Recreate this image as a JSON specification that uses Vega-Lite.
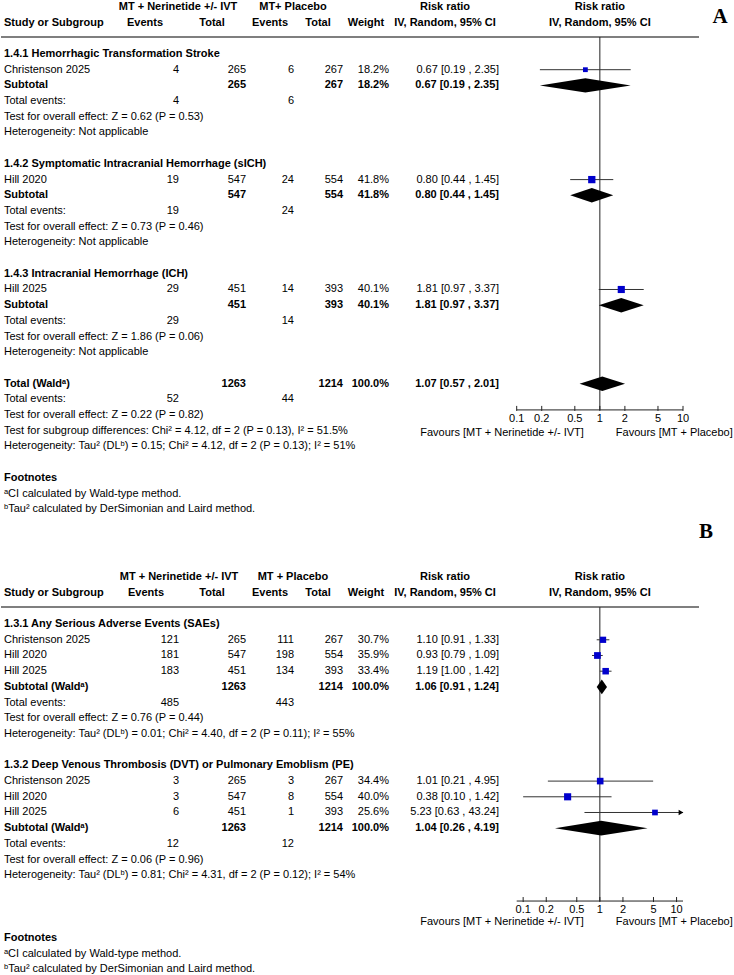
{
  "$schema": "https://vega.github.io/schema/vega-lite/v6.json",
  "padding": 0,
  "spacing": 0,
  "bounds": "flush",
  "background": "white",
  "config": {
    "view": {"stroke": null},
    "font": "Liberation Sans",
    "text": {"font": "Liberation Sans", "fontSize": 11, "color": "#000", "baseline": "middle"}
  },
  "datasets": {
    "ticks": [{"v": 0.1}, {"v": 0.2}, {"v": 0.5}, {"v": 1}, {"v": 2}, {"v": 5}, {"v": 10}],
    "A": [
      {"row": 0, "kind": "head", "key": "g1", "label": "MT + Nerinetide +/- IVT"},
      {"row": 0, "kind": "head", "key": "g2", "label": "MT+ Placebo"},
      {"row": 0, "kind": "head", "key": "rr", "label": "Risk ratio"},
      {"row": 0, "kind": "head", "key": "plot", "label": "Risk ratio"},
      {"row": 1, "kind": "head", "key": "study", "label": "Study or Subgroup"},
      {"row": 1, "kind": "head", "key": "e1", "label": "Events"},
      {"row": 1, "kind": "head", "key": "n1", "label": "Total"},
      {"row": 1, "kind": "head", "key": "e2", "label": "Events"},
      {"row": 1, "kind": "head", "key": "n2", "label": "Total"},
      {"row": 1, "kind": "head", "key": "w", "label": "Weight"},
      {"row": 1, "kind": "head", "key": "rr", "label": "IV, Random, 95% CI"},
      {"row": 1, "kind": "head", "key": "plot", "label": "IV, Random, 95% CI"},
      {"kind": "head", "key": "favL", "label": "Favours [MT + Nerinetide +/- IVT]"},
      {"kind": "head", "key": "favR", "label": "Favours [MT + Placebo]"},
      {"kind": "head", "key": "panel", "label": "A"},
      {"row": 3, "kind": "group", "label": "1.4.1 Hemorrhagic Transformation Stroke"},
      {"row": 4, "kind": "study", "label": "Christenson 2025", "e1": 4, "n1": 265, "e2": 6, "n2": 267, "w": 0.182, "rr": 0.67, "lo": 0.19, "hi": 2.35},
      {"row": 5, "kind": "pooled", "label": "Subtotal", "n1": 265, "n2": 267, "w": 0.182, "rr": 0.67, "lo": 0.19, "hi": 2.35},
      {"row": 6, "kind": "events", "label": "Total events:", "e1": 4, "e2": 6},
      {"row": 7, "kind": "note", "label": "Test for overall effect: Z = 0.62 (P = 0.53)"},
      {"row": 8, "kind": "note", "label": "Heterogeneity: Not applicable"},
      {"row": 10, "kind": "group", "label": "1.4.2 Symptomatic Intracranial Hemorrhage (sICH)"},
      {"row": 11, "kind": "study", "label": "Hill 2020", "e1": 19, "n1": 547, "e2": 24, "n2": 554, "w": 0.418, "rr": 0.80, "lo": 0.44, "hi": 1.45},
      {"row": 12, "kind": "pooled", "label": "Subtotal", "n1": 547, "n2": 554, "w": 0.418, "rr": 0.80, "lo": 0.44, "hi": 1.45},
      {"row": 13, "kind": "events", "label": "Total events:", "e1": 19, "e2": 24},
      {"row": 14, "kind": "note", "label": "Test for overall effect: Z = 0.73 (P = 0.46)"},
      {"row": 15, "kind": "note", "label": "Heterogeneity: Not applicable"},
      {"row": 17, "kind": "group", "label": "1.4.3 Intracranial Hemorrhage (ICH)"},
      {"row": 18, "kind": "study", "label": "Hill 2025", "e1": 29, "n1": 451, "e2": 14, "n2": 393, "w": 0.401, "rr": 1.81, "lo": 0.97, "hi": 3.37},
      {"row": 19, "kind": "pooled", "label": "Subtotal", "n1": 451, "n2": 393, "w": 0.401, "rr": 1.81, "lo": 0.97, "hi": 3.37},
      {"row": 20, "kind": "events", "label": "Total events:", "e1": 29, "e2": 14},
      {"row": 21, "kind": "note", "label": "Test for overall effect: Z = 1.86 (P = 0.06)"},
      {"row": 22, "kind": "note", "label": "Heterogeneity: Not applicable"},
      {"row": 24, "kind": "pooled", "label": "Total (Waldᵃ)", "n1": 1263, "n2": 1214, "w": 1.0, "rr": 1.07, "lo": 0.57, "hi": 2.01},
      {"row": 25, "kind": "events", "label": "Total events:", "e1": 52, "e2": 44},
      {"row": 26, "kind": "note", "label": "Test for overall effect: Z = 0.22 (P = 0.82)"},
      {"row": 27, "kind": "note", "label": "Test for subgroup differences: Chi² = 4.12, df = 2 (P = 0.13), I² = 51.5%"},
      {"row": 28, "kind": "note", "label": "Heterogeneity: Tau² (DLᵇ) = 0.15; Chi² = 4.12, df = 2 (P = 0.13); I² = 51%"},
      {"row": 30, "kind": "group", "label": "Footnotes"},
      {"row": 31, "kind": "note", "label": "ᵃCI calculated by Wald-type method."},
      {"row": 32, "kind": "note", "label": "ᵇTau² calculated by DerSimonian and Laird method."}
    ],
    "B": [
      {"row": 0, "kind": "head", "key": "g1", "label": "MT + Nerinetide +/- IVT"},
      {"row": 0, "kind": "head", "key": "g2", "label": "MT + Placebo"},
      {"row": 0, "kind": "head", "key": "rr", "label": "Risk ratio"},
      {"row": 0, "kind": "head", "key": "plot", "label": "Risk ratio"},
      {"row": 1, "kind": "head", "key": "study", "label": "Study or Subgroup"},
      {"row": 1, "kind": "head", "key": "e1", "label": "Events"},
      {"row": 1, "kind": "head", "key": "n1", "label": "Total"},
      {"row": 1, "kind": "head", "key": "e2", "label": "Events"},
      {"row": 1, "kind": "head", "key": "n2", "label": "Total"},
      {"row": 1, "kind": "head", "key": "w", "label": "Weight"},
      {"row": 1, "kind": "head", "key": "rr", "label": "IV, Random, 95% CI"},
      {"row": 1, "kind": "head", "key": "plot", "label": "IV, Random, 95% CI"},
      {"kind": "head", "key": "favL", "label": "Favours [MT + Nerinetide +/- IVT]"},
      {"kind": "head", "key": "favR", "label": "Favours [MT + Placebo]"},
      {"kind": "head", "key": "panel", "label": "B"},
      {"row": 3, "kind": "group", "label": "1.3.1 Any Serious Adverse Events (SAEs)"},
      {"row": 4, "kind": "study", "label": "Christenson 2025", "e1": 121, "n1": 265, "e2": 111, "n2": 267, "w": 0.307, "rr": 1.10, "lo": 0.91, "hi": 1.33},
      {"row": 5, "kind": "study", "label": "Hill 2020", "e1": 181, "n1": 547, "e2": 198, "n2": 554, "w": 0.359, "rr": 0.93, "lo": 0.79, "hi": 1.09},
      {"row": 6, "kind": "study", "label": "Hill 2025", "e1": 183, "n1": 451, "e2": 134, "n2": 393, "w": 0.334, "rr": 1.19, "lo": 1.00, "hi": 1.42},
      {"row": 7, "kind": "pooled", "label": "Subtotal (Waldᵃ)", "n1": 1263, "n2": 1214, "w": 1.0, "rr": 1.06, "lo": 0.91, "hi": 1.24},
      {"row": 8, "kind": "events", "label": "Total events:", "e1": 485, "e2": 443},
      {"row": 9, "kind": "note", "label": "Test for overall effect: Z = 0.76 (P = 0.44)"},
      {"row": 10, "kind": "note", "label": "Heterogeneity: Tau² (DLᵇ) = 0.01; Chi² = 4.40, df = 2 (P = 0.11); I² = 55%"},
      {"row": 12, "kind": "group", "label": "1.3.2 Deep Venous Thrombosis (DVT) or Pulmonary Emoblism (PE)"},
      {"row": 13, "kind": "study", "label": "Christenson 2025", "e1": 3, "n1": 265, "e2": 3, "n2": 267, "w": 0.344, "rr": 1.01, "lo": 0.21, "hi": 4.95},
      {"row": 14, "kind": "study", "label": "Hill 2020", "e1": 3, "n1": 547, "e2": 8, "n2": 554, "w": 0.400, "rr": 0.38, "lo": 0.10, "hi": 1.42},
      {"row": 15, "kind": "study", "label": "Hill 2025", "e1": 6, "n1": 451, "e2": 1, "n2": 393, "w": 0.256, "rr": 5.23, "lo": 0.63, "hi": 43.24},
      {"row": 16, "kind": "pooled", "label": "Subtotal (Waldᵃ)", "n1": 1263, "n2": 1214, "w": 1.0, "rr": 1.04, "lo": 0.26, "hi": 4.19},
      {"row": 17, "kind": "events", "label": "Total events:", "e1": 12, "e2": 12},
      {"row": 18, "kind": "note", "label": "Test for overall effect: Z = 0.06 (P = 0.96)"},
      {"row": 19, "kind": "note", "label": "Heterogeneity: Tau² (DLᵇ) = 0.81; Chi² = 4.31, df = 2 (P = 0.12); I² = 54%"},
      {"row": 23, "kind": "group", "label": "Footnotes"},
      {"row": 24, "kind": "note", "label": "ᵃCI calculated by Wald-type method."},
      {"row": 25, "kind": "note", "label": "ᵇTau² calculated by DerSimonian and Laird method."}
    ]
  },
  "vconcat": [
    {
      "width": 734,
      "height": 520,
      "data": {"name": "A"},
      "layer": [
        {
          "data": {"values": [{}]},
          "mark": {"type": "rule", "stroke": "#555", "strokeWidth": 1.5},
          "encoding": {
            "x": {"value": 0}, "x2": {"value": 698},
            "y": {"datum": 1.917, "type": "quantitative", "axis": null, "scale": {"domain": [-0.312, 32.809], "reverse": true, "nice": false, "zero": false}}
          }
        },
        {
          "data": {"values": [{}]},
          "mark": {"type": "rule", "stroke": "#222", "strokeWidth": 1},
          "encoding": {
            "x": {"datum": 1, "type": "quantitative", "axis": null, "scale": {"type": "log", "domain": [0.1, 10], "range": [515.7, 682], "nice": false, "clamp": true}},
            "y": {"datum": 1.917, "type": "quantitative", "axis": null, "scale": {"domain": [-0.312, 32.809], "reverse": true, "nice": false, "zero": false}},
            "y2": {"datum": 25.67}
          }
        },
        {
          "data": {"values": [{}]},
          "mark": {"type": "rule", "stroke": "#222", "strokeWidth": 1},
          "encoding": {
            "x": {"datum": 0.1, "type": "quantitative", "axis": null, "scale": {"type": "log", "domain": [0.1, 10], "range": [515.7, 682], "nice": false, "clamp": true}},
            "x2": {"datum": 10},
            "y": {"datum": 25.67, "type": "quantitative", "axis": null, "scale": {"domain": [-0.312, 32.809], "reverse": true, "nice": false, "zero": false}}
          }
        },
        {
          "data": {"name": "ticks"},
          "mark": {"type": "rule", "stroke": "#222", "strokeWidth": 1, "yOffset": -4, "y2Offset": 1},
          "encoding": {
            "x": {"field": "v", "type": "quantitative", "axis": null, "scale": {"type": "log", "domain": [0.1, 10], "range": [515.7, 682], "nice": false, "clamp": true}},
            "y": {"datum": 25.67, "type": "quantitative", "axis": null, "scale": {"domain": [-0.312, 32.809], "reverse": true, "nice": false, "zero": false}},
            "y2": {"datum": 25.67}
          }
        },
        {
          "data": {"name": "ticks"},
          "mark": {"type": "text", "align": "center"},
          "encoding": {
            "x": {"field": "v", "type": "quantitative", "axis": null, "scale": {"type": "log", "domain": [0.1, 10], "range": [515.7, 682], "nice": false, "clamp": true}},
            "y": {"datum": 26.25, "type": "quantitative", "axis": null, "scale": {"domain": [-0.312, 32.809], "reverse": true, "nice": false, "zero": false}},
            "text": {"field": "v", "type": "quantitative", "format": "~g"}
          }
        },
        {
          "transform": [{"filter": "datum.key == 'favL'"}],
          "mark": {"type": "text", "align": "right", "xOffset": -16},
          "encoding": {
            "x": {"datum": 1, "type": "quantitative", "axis": null, "scale": {"type": "log", "domain": [0.1, 10], "range": [515.7, 682], "nice": false, "clamp": true}},
            "y": {"datum": 27.14, "type": "quantitative", "axis": null, "scale": {"domain": [-0.312, 32.809], "reverse": true, "nice": false, "zero": false}},
            "text": {"field": "label"}
          }
        },
        {
          "transform": [{"filter": "datum.key == 'favR'"}],
          "mark": {"type": "text", "align": "left", "xOffset": 16},
          "encoding": {
            "x": {"datum": 1, "type": "quantitative", "axis": null, "scale": {"type": "log", "domain": [0.1, 10], "range": [515.7, 682], "nice": false, "clamp": true}},
            "y": {"datum": 27.14, "type": "quantitative", "axis": null, "scale": {"domain": [-0.312, 32.809], "reverse": true, "nice": false, "zero": false}},
            "text": {"field": "label"}
          }
        },
        {
          "transform": [{"filter": "datum.key == 'panel'"}],
          "mark": {"type": "text", "align": "center", "font": "Liberation Serif", "fontSize": 21, "fontWeight": "bold"},
          "encoding": {
            "x": {"value": 719},
            "y": {"datum": 0.65, "type": "quantitative", "axis": null, "scale": {"domain": [-0.312, 32.809], "reverse": true, "nice": false, "zero": false}},
            "text": {"field": "label"}
          }
        },
        {
          "transform": [
            {"filter": "datum.kind == 'pooled'"},
            {"fold": ["lo", "rr", "hi"], "as": ["k", "xv"]},
            {"calculate": "datum.k == 'rr' ? 0.46 : 0", "as": "dh"},
            {"calculate": "datum.row - datum.dh", "as": "top"},
            {"calculate": "datum.row + datum.dh", "as": "bot"}
          ],
          "mark": {"type": "area", "orient": "vertical", "color": "#000", "opacity": 1, "interpolate": "linear"},
          "encoding": {
            "x": {"field": "xv", "type": "quantitative", "axis": null, "scale": {"type": "log", "domain": [0.1, 10], "range": [515.7, 682], "nice": false, "clamp": true}},
            "y": {"field": "top", "type": "quantitative", "axis": null, "scale": {"domain": [-0.312, 32.809], "reverse": true, "nice": false, "zero": false}},
            "y2": {"field": "bot"},
            "detail": {"field": "row", "type": "nominal"}
          }
        },
        {
          "encoding": {
            "y": {"field": "row", "type": "quantitative", "axis": null, "scale": {"domain": [-0.312, 32.809], "reverse": true, "nice": false, "zero": false}}
          },
          "layer": [
            {
              "transform": [{"filter": "datum.kind == 'study'"}],
              "mark": {"type": "rule", "stroke": "#333", "strokeWidth": 1},
              "encoding": {
                "x": {"field": "lo", "type": "quantitative", "axis": null, "scale": {"type": "log", "domain": [0.1, 10], "range": [515.7, 682], "nice": false, "clamp": true}},
                "x2": {"field": "hi"}
              }
            },
            {
              "transform": [{"filter": "datum.kind == 'study'"}],
              "mark": {"type": "square", "filled": true, "color": "#0000cc", "opacity": 1},
              "encoding": {
                "x": {"field": "rr", "type": "quantitative", "axis": null, "scale": {"type": "log", "domain": [0.1, 10], "range": [515.7, 682], "nice": false, "clamp": true}},
                "size": {"field": "w", "type": "quantitative", "scale": {"domain": [0, 1], "range": [0, 127]}, "legend": null}
              }
            },
            {
              "transform": [{"filter": "datum.kind == 'group' || datum.kind == 'pooled' || datum.key == 'study'"}],
              "mark": {"type": "text", "align": "left", "fontWeight": "bold"},
              "encoding": {"x": {"value": 3}, "text": {"field": "label"}}
            },
            {
              "transform": [{"filter": "datum.kind == 'study' || datum.kind == 'events' || datum.kind == 'note'"}],
              "mark": {"type": "text", "align": "left"},
              "encoding": {"x": {"value": 3}, "text": {"field": "label"}}
            },
            {
              "transform": [{"filter": "isValid(datum.e1)"}],
              "mark": {"type": "text", "align": "right"},
              "encoding": {"x": {"value": 178}, "text": {"field": "e1", "type": "quantitative"}}
            },
            {
              "transform": [{"filter": "isValid(datum.e2)"}],
              "mark": {"type": "text", "align": "right"},
              "encoding": {"x": {"value": 293}, "text": {"field": "e2", "type": "quantitative"}}
            },
            {
              "transform": [{"filter": "datum.kind == 'study'"}],
              "mark": {"type": "text", "align": "right"},
              "encoding": {"x": {"value": 245}, "text": {"field": "n1", "type": "quantitative", "format": "d"}}
            },
            {
              "transform": [{"filter": "datum.kind == 'pooled'"}],
              "mark": {"type": "text", "align": "right", "fontWeight": "bold"},
              "encoding": {"x": {"value": 245}, "text": {"field": "n1", "type": "quantitative", "format": "d"}}
            },
            {
              "transform": [{"filter": "datum.kind == 'study'"}],
              "mark": {"type": "text", "align": "right"},
              "encoding": {"x": {"value": 342}, "text": {"field": "n2", "type": "quantitative", "format": "d"}}
            },
            {
              "transform": [{"filter": "datum.kind == 'pooled'"}],
              "mark": {"type": "text", "align": "right", "fontWeight": "bold"},
              "encoding": {"x": {"value": 342}, "text": {"field": "n2", "type": "quantitative", "format": "d"}}
            },
            {
              "transform": [{"filter": "datum.kind == 'study'"}],
              "mark": {"type": "text", "align": "right"},
              "encoding": {"x": {"value": 388}, "text": {"field": "w", "type": "quantitative", "format": ".1%"}}
            },
            {
              "transform": [{"filter": "datum.kind == 'pooled'"}],
              "mark": {"type": "text", "align": "right", "fontWeight": "bold"},
              "encoding": {"x": {"value": 388}, "text": {"field": "w", "type": "quantitative", "format": ".1%"}}
            },
            {
              "transform": [
                {"filter": "datum.kind == 'study'"},
                {"calculate": "format(datum.rr, '.2f') + ' [' + format(datum.lo, '.2f') + ' , ' + format(datum.hi, '.2f') + ']'", "as": "ci"}
              ],
              "mark": {"type": "text", "align": "right"},
              "encoding": {"x": {"value": 498}, "text": {"field": "ci"}}
            },
            {
              "transform": [
                {"filter": "datum.kind == 'pooled'"},
                {"calculate": "format(datum.rr, '.2f') + ' [' + format(datum.lo, '.2f') + ' , ' + format(datum.hi, '.2f') + ']'", "as": "ci"}
              ],
              "mark": {"type": "text", "align": "right", "fontWeight": "bold"},
              "encoding": {"x": {"value": 498}, "text": {"field": "ci"}}
            },
            {"transform": [{"filter": "datum.key == 'g1'"}], "mark": {"type": "text", "align": "center", "fontWeight": "bold"}, "encoding": {"x": {"value": 177}, "text": {"field": "label"}}},
            {"transform": [{"filter": "datum.key == 'g2'"}], "mark": {"type": "text", "align": "center", "fontWeight": "bold"}, "encoding": {"x": {"value": 292}, "text": {"field": "label"}}},
            {"transform": [{"filter": "datum.key == 'e1'"}], "mark": {"type": "text", "align": "center", "fontWeight": "bold"}, "encoding": {"x": {"value": 144}, "text": {"field": "label"}}},
            {"transform": [{"filter": "datum.key == 'n1'"}], "mark": {"type": "text", "align": "center", "fontWeight": "bold"}, "encoding": {"x": {"value": 211}, "text": {"field": "label"}}},
            {"transform": [{"filter": "datum.key == 'e2'"}], "mark": {"type": "text", "align": "center", "fontWeight": "bold"}, "encoding": {"x": {"value": 269}, "text": {"field": "label"}}},
            {"transform": [{"filter": "datum.key == 'n2'"}], "mark": {"type": "text", "align": "center", "fontWeight": "bold"}, "encoding": {"x": {"value": 317}, "text": {"field": "label"}}},
            {"transform": [{"filter": "datum.key == 'w'"}], "mark": {"type": "text", "align": "center", "fontWeight": "bold"}, "encoding": {"x": {"value": 365}, "text": {"field": "label"}}},
            {"transform": [{"filter": "datum.key == 'rr'"}], "mark": {"type": "text", "align": "center", "fontWeight": "bold"}, "encoding": {"x": {"value": 444}, "text": {"field": "label"}}},
            {
              "transform": [{"filter": "datum.key == 'plot'"}],
              "mark": {"type": "text", "align": "center", "fontWeight": "bold"},
              "encoding": {
                "x": {"datum": 1, "type": "quantitative", "axis": null, "scale": {"type": "log", "domain": [0.1, 10], "range": [515.7, 682], "nice": false, "clamp": true}},
                "text": {"field": "label"}
              }
            }
          ]
        }
      ]
    },
    {
      "width": 734,
      "height": 455,
      "data": {"name": "B"},
      "layer": [
        {
          "data": {"values": [{}]},
          "mark": {"type": "rule", "stroke": "#555", "strokeWidth": 1.5},
          "encoding": {
            "x": {"value": 0}, "x2": {"value": 698},
            "y": {"datum": 1.917, "type": "quantitative", "axis": null, "scale": {"domain": [-3.503, 25.478], "reverse": true, "nice": false, "zero": false}}
          }
        },
        {
          "data": {"values": [{}]},
          "mark": {"type": "rule", "stroke": "#222", "strokeWidth": 1},
          "encoding": {
            "x": {"datum": 1, "type": "quantitative", "axis": null, "scale": {"type": "log", "domain": [0.0824, 12.13], "range": [515.7, 682], "nice": false, "clamp": true}},
            "y": {"datum": 1.917, "type": "quantitative", "axis": null, "scale": {"domain": [-3.503, 25.478], "reverse": true, "nice": false, "zero": false}},
            "y2": {"datum": 20.64}
          }
        },
        {
          "data": {"values": [{}]},
          "mark": {"type": "rule", "stroke": "#222", "strokeWidth": 1},
          "encoding": {
            "x": {"datum": 0.0824, "type": "quantitative", "axis": null, "scale": {"type": "log", "domain": [0.0824, 12.13], "range": [515.7, 682], "nice": false, "clamp": true}},
            "x2": {"datum": 12.13},
            "y": {"datum": 20.64, "type": "quantitative", "axis": null, "scale": {"domain": [-3.503, 25.478], "reverse": true, "nice": false, "zero": false}}
          }
        },
        {
          "data": {"name": "ticks"},
          "mark": {"type": "rule", "stroke": "#222", "strokeWidth": 1, "yOffset": -4, "y2Offset": 1},
          "encoding": {
            "x": {"field": "v", "type": "quantitative", "axis": null, "scale": {"type": "log", "domain": [0.0824, 12.13], "range": [515.7, 682], "nice": false, "clamp": true}},
            "y": {"datum": 20.64, "type": "quantitative", "axis": null, "scale": {"domain": [-3.503, 25.478], "reverse": true, "nice": false, "zero": false}},
            "y2": {"datum": 20.64}
          }
        },
        {
          "data": {"name": "ticks"},
          "mark": {"type": "text", "align": "center"},
          "encoding": {
            "x": {"field": "v", "type": "quantitative", "axis": null, "scale": {"type": "log", "domain": [0.0824, 12.13], "range": [515.7, 682], "nice": false, "clamp": true}},
            "y": {"datum": 21.22, "type": "quantitative", "axis": null, "scale": {"domain": [-3.503, 25.478], "reverse": true, "nice": false, "zero": false}},
            "text": {"field": "v", "type": "quantitative", "format": "~g"}
          }
        },
        {
          "transform": [{"filter": "datum.key == 'favL'"}],
          "mark": {"type": "text", "align": "right", "xOffset": -16},
          "encoding": {
            "x": {"datum": 1, "type": "quantitative", "axis": null, "scale": {"type": "log", "domain": [0.0824, 12.13], "range": [515.7, 682], "nice": false, "clamp": true}},
            "y": {"datum": 21.98, "type": "quantitative", "axis": null, "scale": {"domain": [-3.503, 25.478], "reverse": true, "nice": false, "zero": false}},
            "text": {"field": "label"}
          }
        },
        {
          "transform": [{"filter": "datum.key == 'favR'"}],
          "mark": {"type": "text", "align": "left", "xOffset": 16},
          "encoding": {
            "x": {"datum": 1, "type": "quantitative", "axis": null, "scale": {"type": "log", "domain": [0.0824, 12.13], "range": [515.7, 682], "nice": false, "clamp": true}},
            "y": {"datum": 21.98, "type": "quantitative", "axis": null, "scale": {"domain": [-3.503, 25.478], "reverse": true, "nice": false, "zero": false}},
            "text": {"field": "label"}
          }
        },
        {
          "transform": [{"filter": "datum.key == 'panel'"}],
          "mark": {"type": "text", "align": "center", "font": "Liberation Serif", "fontSize": 21, "fontWeight": "bold"},
          "encoding": {
            "x": {"value": 705},
            "y": {"datum": -2.87, "type": "quantitative", "axis": null, "scale": {"domain": [-3.503, 25.478], "reverse": true, "nice": false, "zero": false}},
            "text": {"field": "label"}
          }
        },
        {
          "transform": [
            {"filter": "datum.kind == 'pooled'"},
            {"fold": ["lo", "rr", "hi"], "as": ["k", "xv"]},
            {"calculate": "datum.k == 'rr' ? 0.47 : 0", "as": "dh"},
            {"calculate": "datum.row - datum.dh", "as": "top"},
            {"calculate": "datum.row + datum.dh", "as": "bot"}
          ],
          "mark": {"type": "area", "orient": "vertical", "color": "#000", "opacity": 1, "interpolate": "linear"},
          "encoding": {
            "x": {"field": "xv", "type": "quantitative", "axis": null, "scale": {"type": "log", "domain": [0.0824, 12.13], "range": [515.7, 682], "nice": false, "clamp": true}},
            "y": {"field": "top", "type": "quantitative", "axis": null, "scale": {"domain": [-3.503, 25.478], "reverse": true, "nice": false, "zero": false}},
            "y2": {"field": "bot"},
            "detail": {"field": "row", "type": "nominal"}
          }
        },
        {
          "encoding": {
            "y": {"field": "row", "type": "quantitative", "axis": null, "scale": {"domain": [-3.503, 25.478], "reverse": true, "nice": false, "zero": false}}
          },
          "layer": [
            {
              "transform": [{"filter": "datum.kind == 'study'"}],
              "mark": {"type": "rule", "stroke": "#333", "strokeWidth": 1},
              "encoding": {
                "x": {"field": "lo", "type": "quantitative", "axis": null, "scale": {"type": "log", "domain": [0.0824, 12.13], "range": [515.7, 682], "nice": false, "clamp": true}},
                "x2": {"field": "hi"}
              }
            },
            {
              "transform": [{"filter": "datum.kind == 'study' && datum.hi > 10"}],
              "mark": {"type": "point", "shape": "triangle-right", "filled": true, "color": "#000", "opacity": 1, "size": 30, "xOffset": -2},
              "encoding": {
                "x": {"field": "hi", "type": "quantitative", "axis": null, "scale": {"type": "log", "domain": [0.0824, 12.13], "range": [515.7, 682], "nice": false, "clamp": true}}
              }
            },
            {
              "transform": [{"filter": "datum.kind == 'study'"}],
              "mark": {"type": "square", "filled": true, "color": "#0000cc", "opacity": 1},
              "encoding": {
                "x": {"field": "rr", "type": "quantitative", "axis": null, "scale": {"type": "log", "domain": [0.0824, 12.13], "range": [515.7, 682], "nice": false, "clamp": true}},
                "size": {"field": "w", "type": "quantitative", "scale": {"domain": [0, 1], "range": [0, 127]}, "legend": null}
              }
            },
            {
              "transform": [{"filter": "datum.kind == 'group' || datum.kind == 'pooled' || datum.key == 'study'"}],
              "mark": {"type": "text", "align": "left", "fontWeight": "bold"},
              "encoding": {"x": {"value": 3}, "text": {"field": "label"}}
            },
            {
              "transform": [{"filter": "datum.kind == 'study' || datum.kind == 'events' || datum.kind == 'note'"}],
              "mark": {"type": "text", "align": "left"},
              "encoding": {"x": {"value": 3}, "text": {"field": "label"}}
            },
            {
              "transform": [{"filter": "isValid(datum.e1)"}],
              "mark": {"type": "text", "align": "right"},
              "encoding": {"x": {"value": 178}, "text": {"field": "e1", "type": "quantitative"}}
            },
            {
              "transform": [{"filter": "isValid(datum.e2)"}],
              "mark": {"type": "text", "align": "right"},
              "encoding": {"x": {"value": 293}, "text": {"field": "e2", "type": "quantitative"}}
            },
            {
              "transform": [{"filter": "datum.kind == 'study'"}],
              "mark": {"type": "text", "align": "right"},
              "encoding": {"x": {"value": 245}, "text": {"field": "n1", "type": "quantitative", "format": "d"}}
            },
            {
              "transform": [{"filter": "datum.kind == 'pooled'"}],
              "mark": {"type": "text", "align": "right", "fontWeight": "bold"},
              "encoding": {"x": {"value": 245}, "text": {"field": "n1", "type": "quantitative", "format": "d"}}
            },
            {
              "transform": [{"filter": "datum.kind == 'study'"}],
              "mark": {"type": "text", "align": "right"},
              "encoding": {"x": {"value": 342}, "text": {"field": "n2", "type": "quantitative", "format": "d"}}
            },
            {
              "transform": [{"filter": "datum.kind == 'pooled'"}],
              "mark": {"type": "text", "align": "right", "fontWeight": "bold"},
              "encoding": {"x": {"value": 342}, "text": {"field": "n2", "type": "quantitative", "format": "d"}}
            },
            {
              "transform": [{"filter": "datum.kind == 'study'"}],
              "mark": {"type": "text", "align": "right"},
              "encoding": {"x": {"value": 388}, "text": {"field": "w", "type": "quantitative", "format": ".1%"}}
            },
            {
              "transform": [{"filter": "datum.kind == 'pooled'"}],
              "mark": {"type": "text", "align": "right", "fontWeight": "bold"},
              "encoding": {"x": {"value": 388}, "text": {"field": "w", "type": "quantitative", "format": ".1%"}}
            },
            {
              "transform": [
                {"filter": "datum.kind == 'study'"},
                {"calculate": "format(datum.rr, '.2f') + ' [' + format(datum.lo, '.2f') + ' , ' + format(datum.hi, '.2f') + ']'", "as": "ci"}
              ],
              "mark": {"type": "text", "align": "right"},
              "encoding": {"x": {"value": 498}, "text": {"field": "ci"}}
            },
            {
              "transform": [
                {"filter": "datum.kind == 'pooled'"},
                {"calculate": "format(datum.rr, '.2f') + ' [' + format(datum.lo, '.2f') + ' , ' + format(datum.hi, '.2f') + ']'", "as": "ci"}
              ],
              "mark": {"type": "text", "align": "right", "fontWeight": "bold"},
              "encoding": {"x": {"value": 498}, "text": {"field": "ci"}}
            },
            {"transform": [{"filter": "datum.key == 'g1'"}], "mark": {"type": "text", "align": "center", "fontWeight": "bold"}, "encoding": {"x": {"value": 178}, "text": {"field": "label"}}},
            {"transform": [{"filter": "datum.key == 'g2'"}], "mark": {"type": "text", "align": "center", "fontWeight": "bold"}, "encoding": {"x": {"value": 292}, "text": {"field": "label"}}},
            {"transform": [{"filter": "datum.key == 'e1'"}], "mark": {"type": "text", "align": "center", "fontWeight": "bold"}, "encoding": {"x": {"value": 145}, "text": {"field": "label"}}},
            {"transform": [{"filter": "datum.key == 'n1'"}], "mark": {"type": "text", "align": "center", "fontWeight": "bold"}, "encoding": {"x": {"value": 211}, "text": {"field": "label"}}},
            {"transform": [{"filter": "datum.key == 'e2'"}], "mark": {"type": "text", "align": "center", "fontWeight": "bold"}, "encoding": {"x": {"value": 269}, "text": {"field": "label"}}},
            {"transform": [{"filter": "datum.key == 'n2'"}], "mark": {"type": "text", "align": "center", "fontWeight": "bold"}, "encoding": {"x": {"value": 317}, "text": {"field": "label"}}},
            {"transform": [{"filter": "datum.key == 'w'"}], "mark": {"type": "text", "align": "center", "fontWeight": "bold"}, "encoding": {"x": {"value": 365}, "text": {"field": "label"}}},
            {"transform": [{"filter": "datum.key == 'rr'"}], "mark": {"type": "text", "align": "center", "fontWeight": "bold"}, "encoding": {"x": {"value": 444}, "text": {"field": "label"}}},
            {
              "transform": [{"filter": "datum.key == 'plot'"}],
              "mark": {"type": "text", "align": "center", "fontWeight": "bold"},
              "encoding": {
                "x": {"datum": 1, "type": "quantitative", "axis": null, "scale": {"type": "log", "domain": [0.0824, 12.13], "range": [515.7, 682], "nice": false, "clamp": true}},
                "text": {"field": "label"}
              }
            }
          ]
        }
      ]
    }
  ]
}
